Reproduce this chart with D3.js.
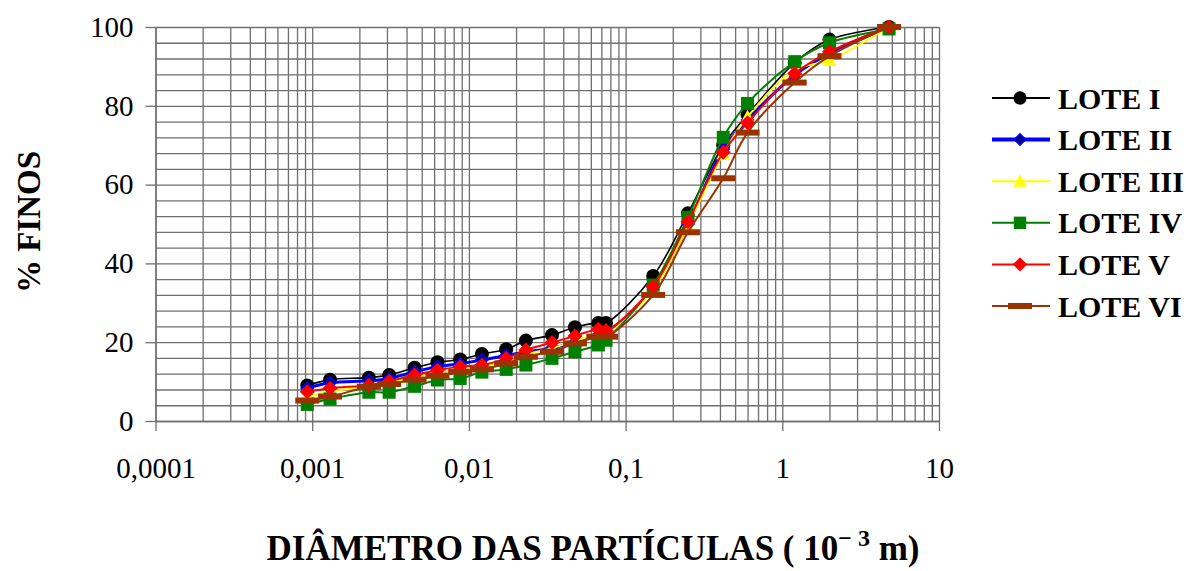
<!DOCTYPE html>
<html>
<head>
<meta charset="utf-8">
<script src="https://cdn.jsdelivr.net/npm/d3@7"></script>
<style>
  body { margin: 0; background: #fff; }
  svg { display: block; font-family: "Liberation Serif", "Times New Roman", serif; }
  .grade line, .grade path { stroke: #6f6f6f; stroke-width: 1.3; }
  .eixos path, .eixos line { stroke: #6f6f6f; stroke-width: 1.3; }
  .eixos text { font-size: 29px; fill: #000; font-family: "Liberation Serif", "Times New Roman", serif; }
</style>
</head>
<body>
<div id="graf"></div>
<script>
// diametros (mm) - sedimentacao + peneiras
const diametros = [0.00093, 0.0013, 0.0023, 0.0031, 0.0045, 0.0063, 0.0088, 0.0121, 0.0173,
  0.0231, 0.0339, 0.0475, 0.067, 0.075, 0.15, 0.25, 0.42, 0.6, 1.2, 2.0, 4.8]

const loteI   = [9.0, 10.5, 11.0, 11.7, 13.5, 14.9, 15.6, 17.0, 18.2, 20.4, 21.8, 23.8, 24.9, 24.9, 36.8, 52.7, 70.0, 77.7, 90.9, 96.8, 100]
const loteII  = [8.3, 9.7, 10.2, 10.8, 12.5, 13.8, 14.5, 15.5, 16.6, 17.5, 18.5, 20.0, 21.8, 22.0, 34.0, 50.0, 69.0, 76.4, 87.8, 93.3, 100]
const loteIII = [6.0, 7.5, 8.8, 9.8, 11.0, 12.2, 13.0, 14.0, 15.0, 16.8, 18.5, 20.3, 22.0, 22.0, 33.5, 49.7, 67.9, 77.2, 89.1, 91.6, 100]
const loteIV  = [4.2, 5.6, 7.3, 7.3, 8.8, 10.4, 10.8, 12.4, 13.1, 14.2, 15.9, 17.6, 19.3, 20.5, 34.5, 51.7, 72.0, 80.6, 91.2, 96.0, 99.5]
const loteV   = [7.4, 8.3, 9.1, 10.1, 11.7, 12.9, 13.8, 14.2, 15.9, 18.0, 19.9, 21.6, 23.3, 23.0, 34.1, 50.6, 68.2, 75.7, 88.2, 93.7, 100]
const loteVI  = [5.2, 6.2, 8.7, 9.4, 10.5, 11.5, 12.5, 13.1, 14.6, 16.3, 17.6, 19.7, 21.4, 21.4, 32.0, 47.9, 61.6, 73.2, 85.9, 92.6, 100]

const nomes = ['LOTE I', 'LOTE II', 'LOTE III', 'LOTE IV', 'LOTE V', 'LOTE VI']
const valores = [loteI, loteII, loteIII, loteIV, loteV, loteVI]

const xTicks = [0.0001, 0.001, 0.01, 0.1, 1, 10]
const xTickLabels = ['0,0001', '0,001', '0,01', '0,1', '1', '10']
const yTicks = [0, 20, 40, 60, 80, 100]

// estilo de cada serie
const estilos = [
  { cor: '#000000', preench: '#000000', larg: 1.6, marca: 'circulo' },
  { cor: '#0000ff', preench: '#000080', larg: 3, marca: 'losango_p' },
  { cor: '#ffff00', preench: '#ffff00', larg: 2, marca: 'triangulo' },
  { cor: '#008000', preench: '#008000', larg: 2, marca: 'quadrado' },
  { cor: '#ff0000', preench: '#ff0000', larg: 2, marca: 'losango' },
  { cor: '#993300', preench: '#993300', larg: 2, marca: 'barra' },
]

const anchoTotal = 1186
const altoTotal = 571
const margin = { top: 27, left: 155.5 }
const ancho = 939 - margin.left
const alto = 421 - margin.top

const svg = d3.select('#graf').append('svg')
  .attr('width', anchoTotal)
  .attr('height', altoTotal)

const g = svg.append('g')
  .attr('transform', `translate(${margin.left}, ${margin.top})`)

const x = d3.scaleLog().domain([0.0001, 10]).range([0, ancho])
const y = d3.scaleLinear().domain([0, 100]).range([alto, 0])

// grade vertical (1..9 por decada)
const menores = []
xTicks.forEach(d => { for (let k = 1; k < 10; k++) if (d * k <= 10.0001) menores.push(d * k) })
g.append('g')
  .attr('class', 'grade')
  .attr('transform', `translate(0, ${alto})`)
  .call(d3.axisBottom(x).tickValues(menores).tickSize(-alto).tickFormat(''))
  .call(s => s.select('.domain').remove())

// grade horizontal a cada 4
g.append('g')
  .attr('class', 'grade')
  .call(d3.axisLeft(y).tickValues(d3.range(0, 101, 4)).tickSize(-ancho).tickFormat(''))
  .call(s => s.select('.domain').remove())

// eixos
g.append('g')
  .attr('class', 'eixos')
  .attr('transform', `translate(0, ${alto})`)
  .call(d3.axisBottom(x).tickValues(xTicks).tickSize(10).tickSizeOuter(0)
    .tickFormat((d, i) => xTickLabels[i]))
  .selectAll('text')
  .attr('y', 36)

g.append('g')
  .attr('class', 'eixos')
  .call(d3.axisLeft(y).tickValues(yTicks).tickSize(10).tickSizeOuter(0))
  .selectAll('text')
  .attr('x', -22)

// marcadores
function marcador(sel, tipo, cor, preench, cx, cy, esc) {
  const s = esc || 1
  if (tipo === 'circulo') {
    sel.append('circle').attr('cx', cx).attr('cy', cy).attr('r', 7 * s).attr('fill', preench)
  } else if (tipo === 'losango_p') {
    const r = 6 * s
    sel.append('path').attr('d', `M${cx},${cy - r}L${cx + r},${cy}L${cx},${cy + r}L${cx - r},${cy}Z`)
      .attr('fill', preench).attr('stroke', cor).attr('stroke-width', 1.5)
  } else if (tipo === 'losango') {
    const r = 7.5 * s
    sel.append('path').attr('d', `M${cx},${cy - r}L${cx + r},${cy}L${cx},${cy + r}L${cx - r},${cy}Z`)
      .attr('fill', preench)
  } else if (tipo === 'triangulo') {
    const r = 7 * s
    sel.append('path').attr('d', `M${cx},${cy - r}L${cx + r},${cy + r * 0.85}L${cx - r},${cy + r * 0.85}Z`)
      .attr('fill', preench)
  } else if (tipo === 'quadrado') {
    const r = 6.5 * s
    sel.append('rect').attr('x', cx - r).attr('y', cy - r).attr('width', 2 * r).attr('height', 2 * r)
      .attr('fill', preench)
  } else if (tipo === 'barra') {
    sel.append('rect').attr('x', cx - 12).attr('y', cy - 3).attr('width', 24).attr('height', 6)
      .attr('fill', preench)
  }
}

const linha = d3.line()
  .x(d => x(d[0]))
  .y(d => y(d[1]))
  .curve(d3.curveCatmullRom.alpha(0.5))

valores.forEach((serie, i) => {
  const est = estilos[i]
  const pts = diametros.map((d, j) => [d, serie[j]])
  const gs = g.append('g')
  gs.append('path')
    .attr('d', linha(pts))
    .attr('fill', 'none')
    .attr('stroke', est.cor)
    .attr('stroke-width', est.larg)
  pts.forEach(p => marcador(gs, est.marca, est.cor, est.preench, x(p[0]), y(p[1])))
})

// legenda
const leg = svg.append('g').attr('transform', 'translate(992, 98)')
nomes.forEach((nome, i) => {
  const est = estilos[i]
  const ly = i * 41.6
  const li = leg.append('g')
  li.append('line')
    .attr('x1', 0).attr('x2', 58)
    .attr('y1', ly).attr('y2', ly)
    .attr('stroke', est.cor)
    .attr('stroke-width', i === 1 ? 4 : 2)
  marcador(li, est.marca, est.cor, est.preench, 28, ly, 0.95)
  li.append('text')
    .attr('x', 66).attr('y', ly + 10.5)
    .attr('font-size', 30).attr('font-weight', 'bold')
    .text(nome)
})

// titulos
svg.append('text')
  .attr('transform', 'translate(40, 222) rotate(-90)')
  .attr('text-anchor', 'middle')
  .attr('font-size', 33).attr('font-weight', 'bold')
  .text('% FINOS')

const tx = svg.append('text')
  .attr('x', 593).attr('y', 560)
  .attr('text-anchor', 'middle')
  .attr('font-size', 35).attr('font-weight', 'bold')
tx.append('tspan').text('DIÂMETRO DAS PARTÍCULAS ( 10')
tx.append('tspan').attr('dy', -14).attr('font-size', 24).text('\u2212 3')
tx.append('tspan').attr('dy', 14).text(' m)')
</script>
</body>
</html>
